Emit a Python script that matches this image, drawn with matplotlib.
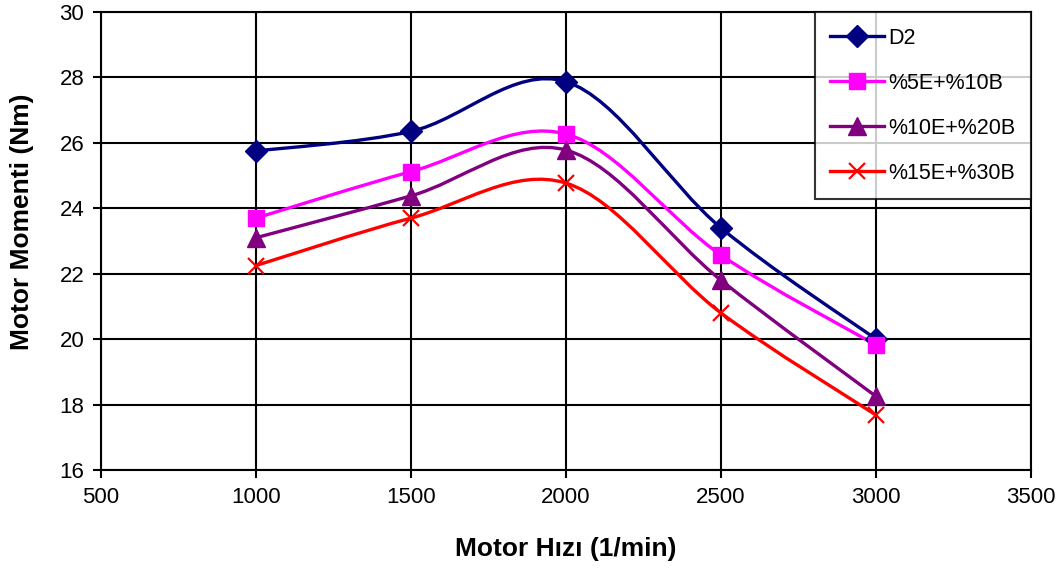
import matplotlib
matplotlib.use("Agg")
import matplotlib.pyplot as plt
from matplotlib.path import Path
from matplotlib.patches import PathPatch
import numpy as np

plt.rcParams['font.family'] = ['Liberation Sans', 'DejaVu Sans']

speed = [1000, 1500, 2000, 2500, 3000]
d2 = [25.75, 26.35, 27.87, 23.4, 20.0]
e5b10 = [23.7, 25.12, 26.27, 22.57, 19.82]
e10b20 = [23.1, 24.38, 25.78, 21.8, 18.25]
e15b30 = [22.25, 23.7, 24.77, 20.8, 17.68]

labels = ['D2', '%5E+%10B', '%10E+%20B', '%15E+%30B']
series = [d2, e5b10, e10b20, e15b30]
colors = ['#000080', '#FF00FF', '#800080', '#FF0000']
markers = ['D', 's', '^', 'x']
msizes = [11, 12, 13, 11]

xticks = [500, 1000, 1500, 2000, 2500, 3000, 3500]
yticks = [16, 18, 20, 22, 24, 26, 28, 30]

fig = plt.figure(figsize=(10.63, 5.71), dpi=100)
ax = fig.add_axes([101/1063, 1-470/571, 930/1063, 458/571])


def smooth_path(xs, ys):
    pts = np.column_stack([xs, ys]).astype(float)
    n = len(pts)
    verts = [pts[0]]
    codes = [Path.MOVETO]
    for i in range(n - 1):
        p0 = pts[i - 1] if i > 0 else pts[i]
        p1 = pts[i]
        p2 = pts[i + 1]
        p3 = pts[i + 2] if i + 2 < n else pts[i + 1]
        c1 = p1 + (p2 - p0) / 6.0
        c2 = p2 - (p3 - p1) / 6.0
        verts += [c1, c2, p2]
        codes += [Path.CURVE4] * 3
    return Path(verts, codes)


for ys, lab, c, m, ms in zip(series, labels, colors, markers, msizes):
    patch = PathPatch(smooth_path(speed, ys), facecolor='none', edgecolor=c,
                      lw=2.4, zorder=3)
    ax.add_patch(patch)
    mew = 1.6 if m == 'x' else 1
    ax.plot(speed, ys, linestyle='none', marker=m, color=c, ms=ms,
            mew=mew, zorder=4)
    ax.plot([], [], color=c, lw=2.4, marker=m, ms=ms, mew=mew, label=lab)

ax.set_xlim(500, 3500)
ax.set_ylim(16, 30)
ax.set_xticks(xticks)
ax.set_yticks(yticks)
ax.grid(True, color='black', lw=1.5)
ax.set_axisbelow(True)
for s in ax.spines.values():
    s.set_linewidth(1.5)
ax.tick_params(labelsize=16, length=6, width=1.5, pad=6)
ax.set_xlabel('Motor Hızı (1/min)', fontsize=19, fontweight='bold')
ax.xaxis.set_label_coords(0.5, (470 - 537) / 458)
ax.set_ylabel('Motor Momenti (Nm)', fontsize=19, fontweight='bold')
ax.yaxis.set_label_coords((34 - 101) / 930, (470 - 222) / 458)

leg = ax.legend(loc='upper right', fontsize=15.5, frameon=True, fancybox=False,
                edgecolor='black', borderaxespad=0, handlelength=2.5,
                labelspacing=1.12, borderpad=0.72, handletextpad=0.2)
leg.get_frame().set_linewidth(1.5)

fig.savefig('out.png', dpi=100, facecolor='white')
